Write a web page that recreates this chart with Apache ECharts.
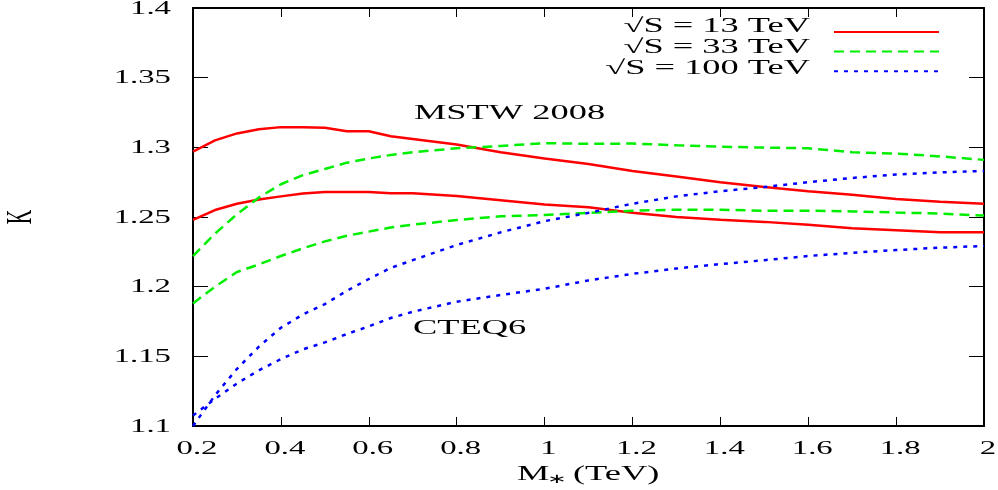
<!DOCTYPE html>
<html>
<head>
<meta charset="utf-8">
<script src="https://cdn.jsdelivr.net/npm/echarts@6/dist/echarts.min.js"></script>
<style>
  html, body { margin: 0; padding: 0; background: #fff; }
  #chart { width: 998px; height: 490px; }
</style>
</head>
<body>
<div id="chart"></div>
<script>
// x values (M*, TeV) shared by all curves
var xs = [0.2, 0.25, 0.3, 0.35, 0.4, 0.45, 0.5, 0.55, 0.6, 0.65, 0.7, 0.8, 0.9, 1.0, 1.1, 1.2, 1.3, 1.4, 1.5, 1.6, 1.7, 1.8, 1.9, 2.0]

// MSTW 2008
var mstw13  = [1.297, 1.305, 1.310, 1.313, 1.3145, 1.3145, 1.314, 1.3115, 1.3115, 1.308, 1.306, 1.302, 1.2965, 1.292, 1.288, 1.283, 1.279, 1.275, 1.2715, 1.2685, 1.266, 1.263, 1.261, 1.2595]
var mstw33  = [1.222, 1.238, 1.252, 1.264, 1.2735, 1.280, 1.2845, 1.289, 1.292, 1.2945, 1.2965, 1.2993, 1.301, 1.303, 1.3025, 1.3027, 1.3015, 1.3005, 1.2998, 1.2993, 1.2965, 1.2955, 1.2935, 1.291]
var mstw100 = [1.100, 1.122, 1.141, 1.157, 1.1705, 1.180, 1.1875, 1.197, 1.2055, 1.2135, 1.219, 1.2299, 1.239, 1.247, 1.253, 1.2595, 1.2648, 1.2685, 1.2715, 1.275, 1.278, 1.2805, 1.282, 1.2831]

// CTEQ6
var cteq13  = [1.248, 1.255, 1.2595, 1.2625, 1.2648, 1.2668, 1.268, 1.268, 1.268, 1.267, 1.267, 1.265, 1.262, 1.259, 1.257, 1.253, 1.250, 1.248, 1.2465, 1.2445, 1.242, 1.2405, 1.239, 1.239]
var cteq33  = [1.188, 1.200, 1.2105, 1.216, 1.222, 1.2275, 1.2325, 1.2365, 1.2395, 1.2425, 1.2445, 1.2478, 1.2505, 1.2515, 1.253, 1.2545, 1.2552, 1.2552, 1.2545, 1.2545, 1.254, 1.2532, 1.2525, 1.251]
var cteq100 = [1.1075, 1.1195, 1.1305, 1.140, 1.148, 1.155, 1.160, 1.166, 1.1715, 1.1775, 1.182, 1.1892, 1.194, 1.1985, 1.2045, 1.2092, 1.213, 1.2162, 1.219, 1.222, 1.2243, 1.2263, 1.228, 1.2292]

var legendNames = ['√S = 13 TeV', '√S = 33 TeV', '√S = 100 TeV']

var xTicks = [0.2, 0.4, 0.6, 0.8, 1.0, 1.2, 1.4, 1.6, 1.8, 2.0]
var xTickLabels = ['0.2', '0.4', '0.6', '0.8', '1', '1.2', '1.4', '1.6', '1.8', '2']
var yTicks = [1.1, 1.15, 1.2, 1.25, 1.3, 1.35, 1.4]
var yTickLabels = ['1.1', '1.15', '1.2', '1.25', '1.3', '1.35', '1.4']

var FONT = '"Liberation Serif", "Times New Roman", serif'
var STRETCH = 1.82   // the original picture is widened, so text is too

function pairs (ys) {
  return xs.map(function (x, i) { return [x, ys[i]] })
}

function txt (text, x, y, size, align, vAlign, extra) {
  var el = {
    type: 'text',
    x: x,
    y: y,
    scaleX: STRETCH,
    silent: true,
    style: {
      text: text,
      font: size + 'px ' + FONT,
      fill: '#000',
      align: align,
      verticalAlign: vAlign,
      textAlign: align,
      textVerticalAlign: vAlign
    }
  }
  if (extra) for (var k in extra) el[k] = extra[k]
  return el
}

var red = '#ff0000'
var green = '#00ee00'
var blue = '#0000ff'

function curve (name, ys, color, type) {
  return {
    name: name,
    type: 'line',
    data: pairs(ys),
    symbol: 'none',
    showSymbol: false,
    smooth: false,
    lineStyle: { color: color, width: 2.5, type: type },
    itemStyle: { color: color },
    emphasis: { disabled: true },
    z: 3
  }
}

var axisBase = {
  type: 'value',
  axisLine: { show: true, onZero: false, lineStyle: { color: '#000', width: 2 } },
  axisLabel: { show: false },
  splitLine: { show: false }
}

var chart = echarts.init(document.getElementById('chart'))
chart.setOption({
  animation: false,
  backgroundColor: '#fff',
  grid: { left: 193, right: 14, top: 8, bottom: 64, containLabel: false },
  legend: {
    data: legendNames,
    orient: 'vertical',
    align: 'right',
    right: 53,
    top: 20,
    itemWidth: 105,
    itemHeight: 14,
    itemGap: 7,
    selectedMode: false,
    itemStyle: { opacity: 0, borderWidth: 0 },
    lineStyle: { width: 2 },
    formatter: function () { return '' },
    textStyle: { fontSize: 12 }
  },
  xAxis: [
    Object.assign({}, axisBase, {
      position: 'bottom', min: 0.2, max: 2, interval: 0.2,
      axisTick: { show: true, inside: true, length: 9, lineStyle: { color: '#000', width: 1 } }
    }),
    Object.assign({}, axisBase, {
      position: 'top', min: 0.2, max: 2, interval: 0.2,
      axisTick: { show: true, inside: true, length: 9, lineStyle: { color: '#000', width: 1 } }
    })
  ],
  yAxis: [
    Object.assign({}, axisBase, {
      position: 'left', min: 1.1, max: 1.4, interval: 0.05,
      axisTick: { show: true, inside: true, length: 15, lineStyle: { color: '#000', width: 1 } }
    }),
    Object.assign({}, axisBase, {
      position: 'right', min: 1.1, max: 1.4, interval: 0.05,
      axisTick: { show: true, inside: true, length: 15, lineStyle: { color: '#000', width: 1 } }
    })
  ],
  series: [
    curve(legendNames[0], mstw13, red, 'solid'),
    curve(legendNames[0], cteq13, red, 'solid'),
    curve(legendNames[1], mstw33, green, [10, 6]),
    curve(legendNames[1], cteq33, green, [10, 6]),
    curve(legendNames[2], mstw100, blue, [4, 6]),
    curve(legendNames[2], cteq100, blue, [4, 6])
  ]
})

// tick labels, titles and legend texts (stretched like the original)
var g = []
xTicks.forEach(function (v, i) {
  var p = chart.convertToPixel({ xAxisIndex: 0, yAxisIndex: 0 }, [v, 1.1])
  g.push(txt(xTickLabels[i], p[0] + 4, p[1] + 23, 18, 'center', 'middle'))
})
yTicks.forEach(function (v, i) {
  var p = chart.convertToPixel({ xAxisIndex: 0, yAxisIndex: 0 }, [0.2, v])
  g.push(txt(yTickLabels[i], p[0] - 22, p[1] + 1, 18, 'right', 'middle'))
})

// axis titles
g.push(txt('M', 517, 475, 20, 'left', 'middle'))
g.push(txt('∗', 547, 480, 13, 'left', 'middle'))
g.push(txt('(TeV)', 573, 475, 20, 'left', 'middle'))
g.push(txt('K', 21, 217, 20, 'center', 'middle', { rotation: Math.PI / 2, scaleX: 1, scaleY: STRETCH }))

// annotations
g.push(txt('MSTW 2008', 414, 114, 20, 'left', 'middle'))
g.push(txt('CTEQ6', 413, 329, 20, 'left', 'middle'))

// legend texts, right aligned next to the legend lines
var legendY = [27, 48, 69]
legendNames.forEach(function (n, i) {
  g.push(txt(n, 810, legendY[i], 20, 'right', 'middle'))
})

chart.setOption({ graphic: g })
</script>
</body>
</html>
